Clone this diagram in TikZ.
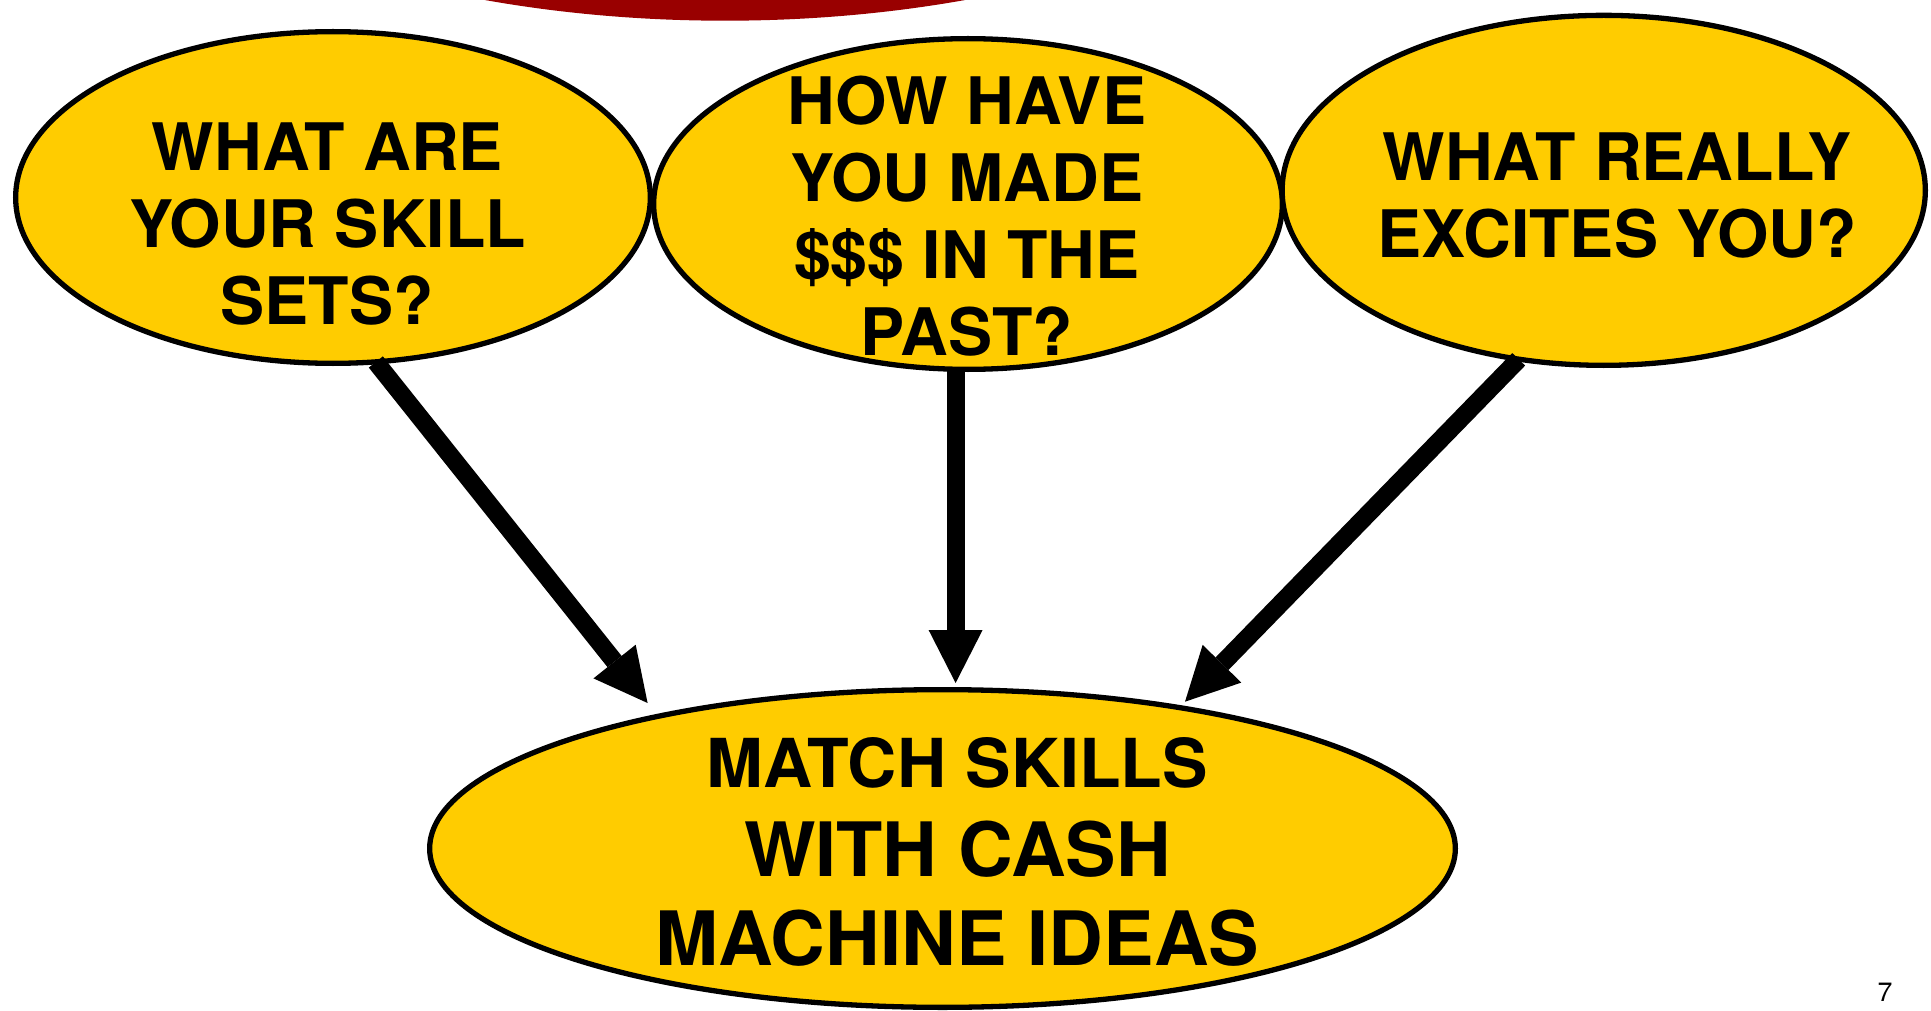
\documentclass[tikz,border=0pt]{standalone}
\usepackage{fontspec}
\setmainfont{TeX Gyre Heros}[FakeStretch=1.01]
\usetikzlibrary{arrows.meta,shapes.geometric}
\definecolor{qyellow}{HTML}{FFCC00}
\definecolor{qred}{HTML}{990000}
\begin{document}
\begin{tikzpicture}[x=1pt,y=-1pt,
  bubble/.style={ellipse, draw=black, line width=5.3pt, fill=qyellow, inner sep=0pt},
  qtext/.style={anchor=north, inner sep=0pt, align=center, font=\bfseries\fontsize{65.5}{77}\selectfont},
  arr/.style={line width=18pt, shorten <=-3pt, -{Triangle[length=53pt,width=54pt,line width=0pt]}}
]
\useasboundingbox (0,0) rectangle (1931,1011);
\begin{scope}
\clip (0,0) rectangle (1931,1011);
\fill[qred] (725,-374.3) ellipse [x radius=750, y radius=395];

\node[bubble, minimum width=634.7pt, minimum height=331.7pt] (L) at (333,197.5) {};
\node[bubble, minimum width=628.7pt, minimum height=330.7pt] (M) at (968,204) {};
\node[bubble, minimum width=643.2pt, minimum height=350pt] (R) at (1603.75,190.35) {};
\node[bubble, minimum width=1025.7pt, minimum height=317.7pt] (B) at (942.5,848.5) {};

\node[qtext] (Lt) at (327.5,123) {WHAT ARE\\YOUR SKILL\\SETS?};
\node[qtext] (Mt) at (967,76) {HOW HAVE\\YOU MADE\\\$\$\$ IN THE\\PAST?};
\node[qtext] (Rt) at (1617,133) {WHAT REALLY\\EXCITES YOU?};
\node[qtext, font=\bfseries\fontsize{75}{89}\selectfont] (Bt) at (957.5,737.3)
  {{\fontsize{67.5}{89}\selectfont MATCH SKILLS}\\WITH CASH\\MACHINE IDEAS};

\coordinate (tL) at (647.6,703);
\coordinate (tM) at (955.6,683);
\coordinate (tR) at (1185,701.7);
\draw[arr] (L.-75.6) -- (tL);
\draw[arr] (M.south -| tM) -- (tM);
\draw[arr] (R.-117.9) -- (tR);

\node[anchor=base, inner sep=0pt, font=\fontsize{26.5}{30}\selectfont] (pg) at (1885,1001) {7};
\end{scope}
\end{tikzpicture}
\end{document}
